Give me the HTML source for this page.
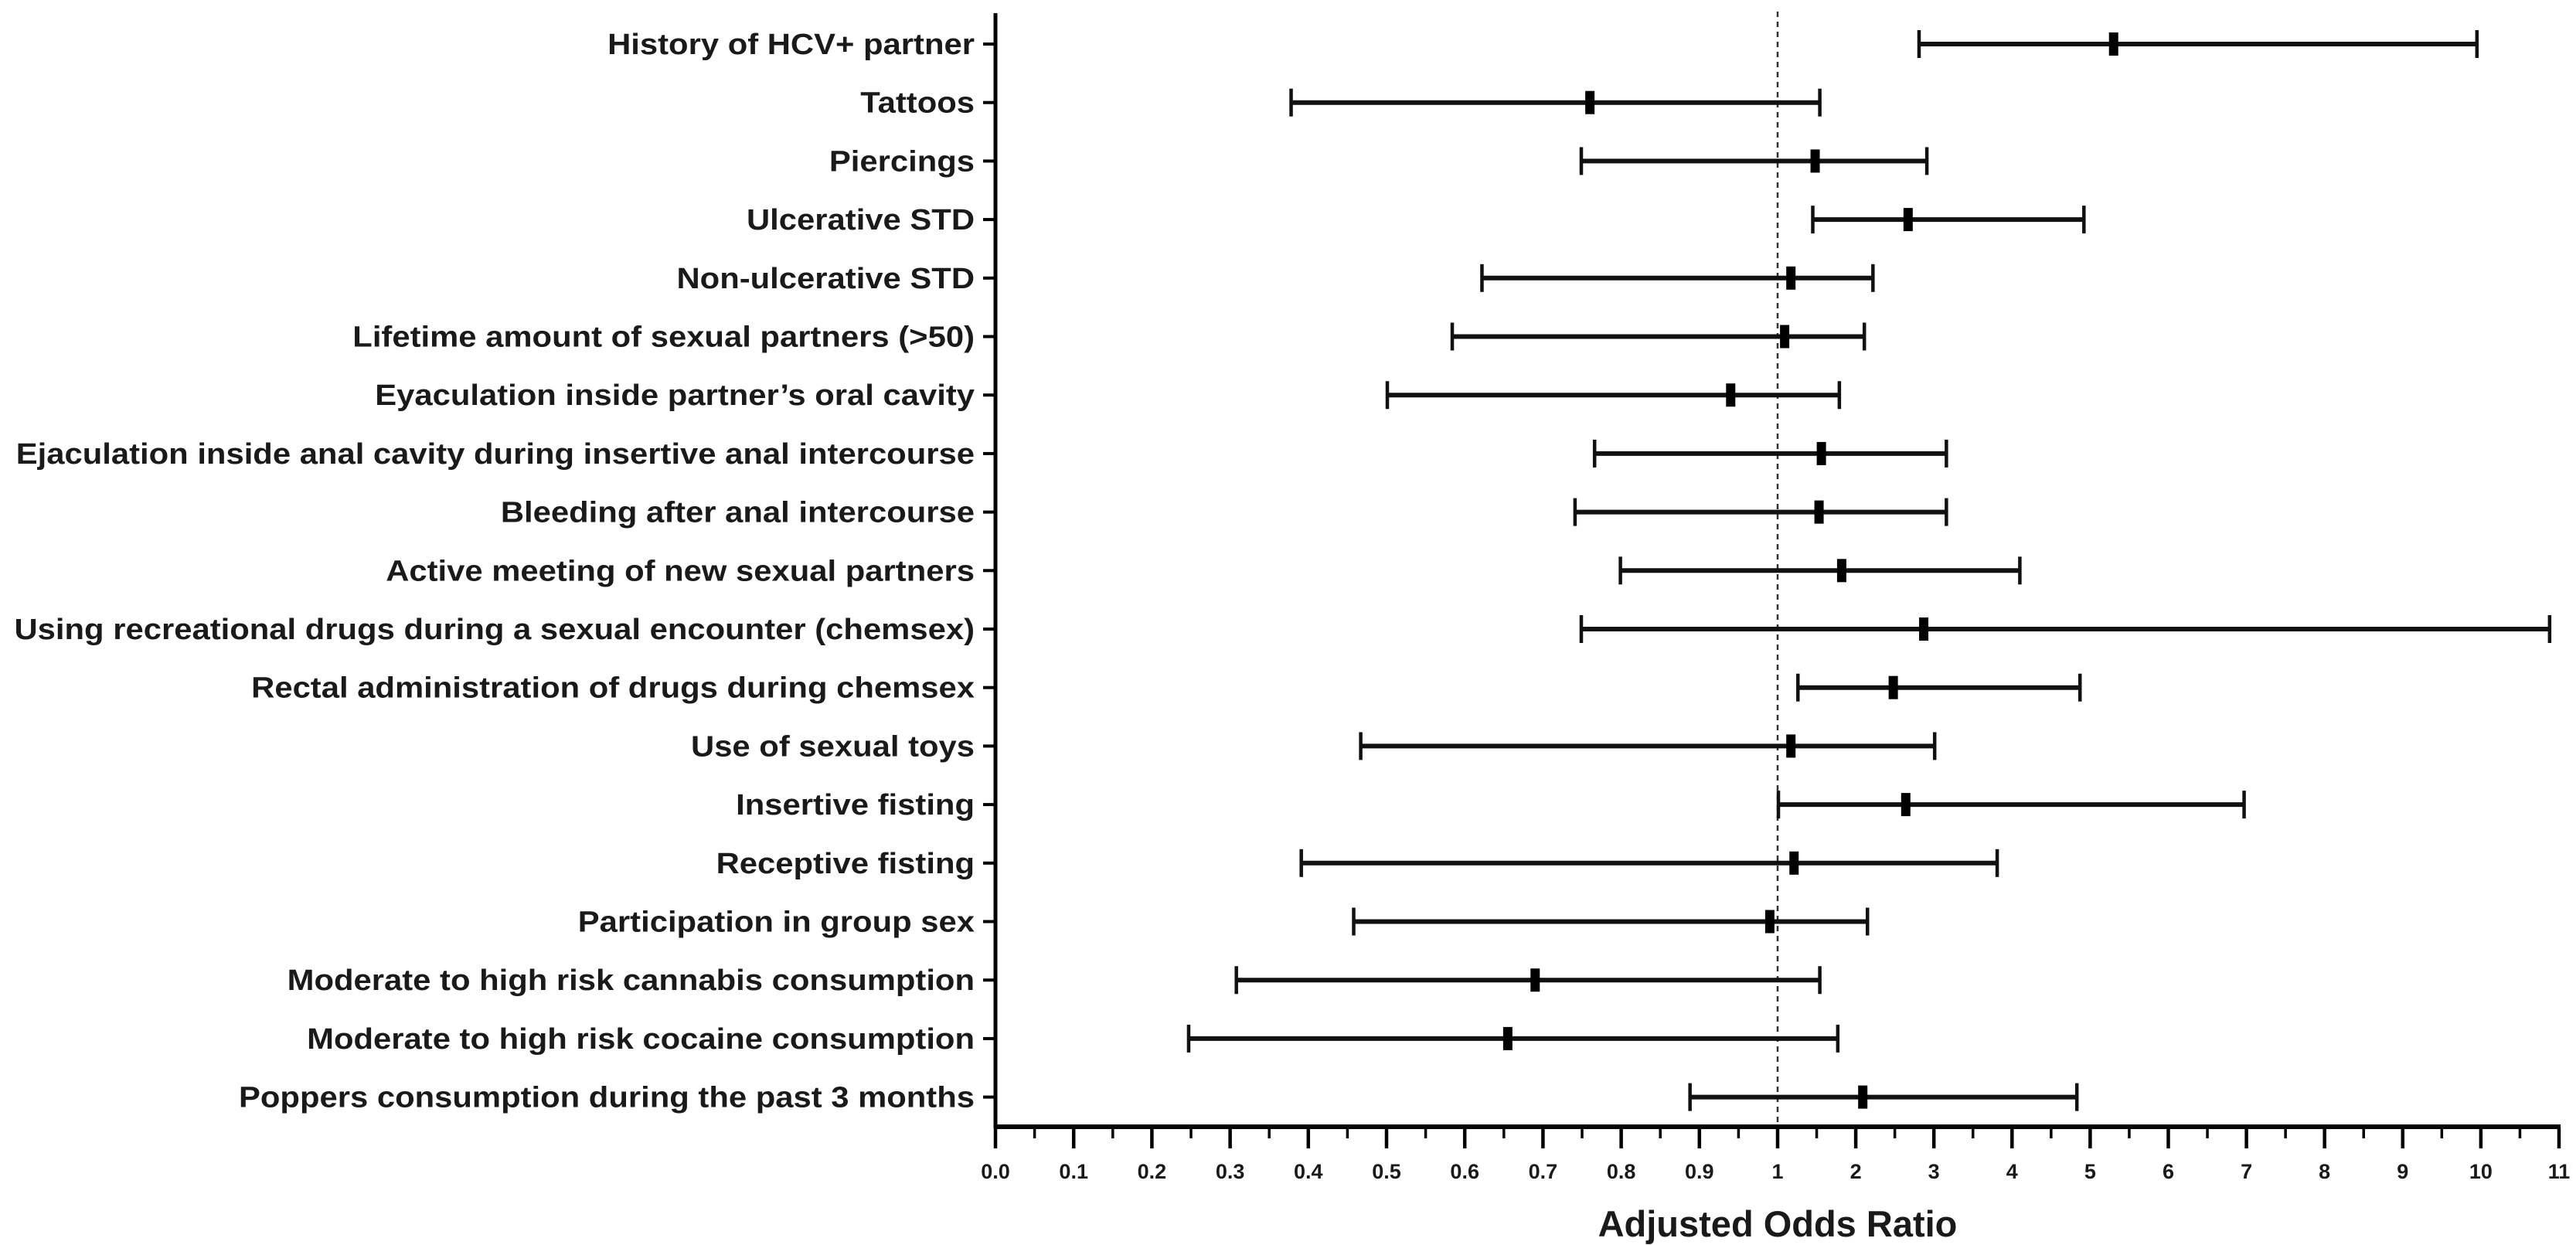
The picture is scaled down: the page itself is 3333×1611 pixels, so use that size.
<!DOCTYPE html>
<html><head><meta charset="utf-8">
<style>
html,body{margin:0;padding:0;background:#fff;}
svg{display:block;}
text{font-family:"Liberation Sans",Arial,sans-serif;fill:#1a1a1a;}
</style></head>
<body>
<svg id="chart" width="3333" height="1611" viewBox="0 0 3333 1611" xmlns="http://www.w3.org/2000/svg">
<g id="grid"></g>
<g id="marks"></g>
<g id="axes"></g>
<text x="2300" y="1600" text-anchor="middle" font-size="47" font-weight="bold">Adjusted Odds Ratio</text>
</svg>
<script>
const categories = ["History of HCV+ partner","Tattoos","Piercings","Ulcerative STD","Non-ulcerative STD","Lifetime amount of sexual partners (>50)","Eyaculation inside partner\u2019s oral cavity","Ejaculation inside anal cavity during insertive anal intercourse","Bleeding after anal intercourse","Active meeting  of new sexual partners","Using recreational drugs during a sexual encounter (chemsex)","Rectal administration of drugs during chemsex","Use of sexual toys ","Insertive fisting","Receptive fisting","Participation in group sex","Moderate to high risk cannabis consumption","Moderate to high risk  cocaine consumption","Poppers consumption during the past 3 months"];
const oddsRatio = [5.3,0.76,1.48,2.67,1.17,1.09,0.94,1.56,1.53,1.82,2.87,2.48,1.17,2.64,1.21,0.99,0.69,0.655,2.09];
const ciLow = [2.81,0.378,0.749,1.45,0.622,0.584,0.501,0.766,0.741,0.799,0.749,1.26,0.467,1.01,0.391,0.458,0.308,0.247,0.888];
const ciHigh = [9.95,1.54,2.91,4.92,2.22,2.11,1.79,3.16,3.16,4.10,10.88,4.87,3.01,6.97,3.81,2.15,1.54,1.77,4.83];
const leftTicks = ["0.0","0.1","0.2","0.3","0.4","0.5","0.6","0.7","0.8","0.9"];
const rightTicks = ["1","2","3","4","5","6","7","8","9","10","11"];

const NS="http://www.w3.org/2000/svg";
const X0=1288, X1=2300, X11=3311, AXY=1458, ROW0=57, ROWSTEP=75.7;
function xScale(v){ return v<=1 ? X0+(X1-X0)*v : X1+(X11-X1)*(v-1)/10; }
function yScale(i){ return ROW0+ROWSTEP*i; }
function mk(tag,attrs,parent){const e=document.createElementNS(NS,tag);for(const k in attrs)e.setAttribute(k,attrs[k]);parent.appendChild(e);return e;}
const grid=document.getElementById('grid'), marks=document.getElementById('marks'), axes=document.getElementById('axes');

let ref=mk('line',{x1:xScale(1),x2:xScale(1),y1:15,y2:AXY,stroke:'#333','stroke-width':2.5,'stroke-dasharray':'7,6'},grid);



let ya=mk('line',{x1:X0,x2:X0,y1:17,y2:AXY+2,stroke:'#000','stroke-width':5},axes);


let xa=mk('line',{x1:X0-2,x2:X11+2,y1:AXY,y2:AXY,stroke:'#000','stroke-width':6},axes);



const tickVals=[];
leftTicks.forEach((t,i)=>tickVals.push([i/10,t]));
rightTicks.forEach((t,i)=>tickVals.push([i+1,t]));
tickVals.forEach(([v,t],k)=>{
  const x=xScale(v);
  mk('line',{x1:x,x2:x,y1:AXY,y2:AXY+28,stroke:'#000','stroke-width':4.5},axes);
  const tx=mk('text',{x:x,y:AXY+67,'text-anchor':'middle','font-size':27,'font-weight':'bold','fill':'#333'},axes);
  tx.textContent=t;
  
  
  if(k<tickVals.length-1){
    const nv = v<1 ? v+0.05 : v+0.5;
    const nx=xScale(nv);
    mk('line',{x1:nx,x2:nx,y1:AXY,y2:AXY+15,stroke:'#000','stroke-width':3.5},axes);
  }
});

categories.forEach((c,i)=>{
  const y=yScale(i);
  mk('line',{x1:X0-16,x2:X0,y1:y,y2:y,stroke:'#000','stroke-width':4},axes);
  const lb=mk('text',{x:0,y:0,transform:'translate(1261,'+(y+13)+') scale(1.1,1)','text-anchor':'end','font-size':38,'font-weight':'bold','fill':'#222'},axes);
  lb.textContent=c;
  
  
  const g=mk('g',{},marks);
  
  
  const xl=xScale(ciLow[i]), xh=xScale(ciHigh[i]), xp=xScale(oddsRatio[i]);
  mk('line',{x1:xl,x2:xh,y1:y,y2:y,stroke:'#111','stroke-width':6},g);
  mk('line',{x1:xl,x2:xl,y1:y-18,y2:y+18,stroke:'#111','stroke-width':4.5},g);
  mk('line',{x1:xh,x2:xh,y1:y-18,y2:y+18,stroke:'#111','stroke-width':4.5},g);
  const p=mk('rect',{x:xp-6,y:y-15,width:12,height:30,fill:'#000'},g);
  
  
});
</script>
</body></html>
